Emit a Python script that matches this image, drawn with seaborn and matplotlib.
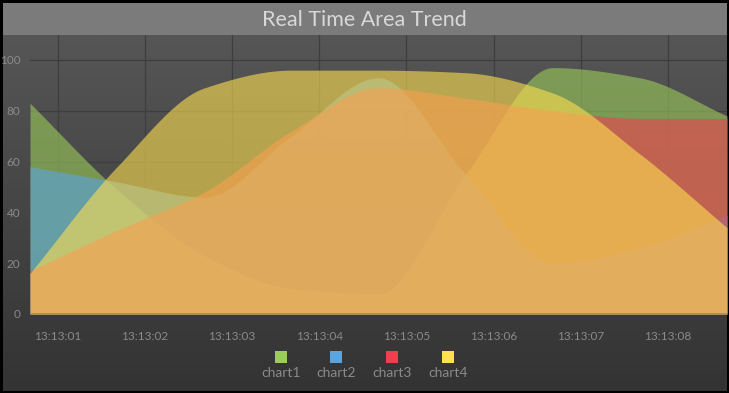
import numpy as np
import pandas as pd
import matplotlib
matplotlib.use("Agg")
import matplotlib.pyplot as plt
import seaborn as sns
from matplotlib.patches import Rectangle

# ---------------- data ----------------
sample_times = [0.68, 1.68, 2.68, 3.68, 4.68, 5.68, 6.68, 7.68, 8.68]
tick_seconds = [1, 2, 3, 4, 5, 6, 7, 8]
tick_labels = ["13:13:01", "13:13:02", "13:13:03", "13:13:04",
               "13:13:05", "13:13:06", "13:13:07", "13:13:08"]
series_names = ["chart1", "chart2", "chart3", "chart4"]
chart1 = [83, 49, 23, 10, 8, 55, 97, 93, 78]
chart2 = [58, 52, 46, 70, 93, 55, 20, 26, 39]
chart3 = [17, 33, 48, 72, 89, 85, 80, 77, 77]
chart4 = [16, 58, 89, 96, 96, 95, 87, 63, 34]
y_ticks = [0, 20, 40, 60, 80, 100]
colors = ["#9ccc5a", "#5aa5e0", "#f0404f", "#ffe050"]
title = "Real Time Area Trend"


def monotone_curve(x, y, n=60):
    x = np.asarray(x, float)
    y = np.asarray(y, float)
    h = np.diff(x)
    d = np.diff(y) / h
    m = np.zeros_like(y)
    m[0], m[-1] = d[0], d[-1]
    for k in range(1, len(y) - 1):
        if d[k - 1] * d[k] <= 0:
            m[k] = 0.0
        else:
            w1 = 2 * h[k] + h[k - 1]
            w2 = h[k] + 2 * h[k - 1]
            m[k] = (w1 + w2) / (w1 / d[k - 1] + w2 / d[k])
    xs, ys = [], []
    for k in range(len(h)):
        t = np.linspace(0, 1, n, endpoint=(k == len(h) - 1))
        h00 = 2 * t**3 - 3 * t**2 + 1
        h10 = t**3 - 2 * t**2 + t
        h01 = -2 * t**3 + 3 * t**2
        h11 = t**3 - t**2
        xs.append(x[k] + t * h[k])
        ys.append(h00 * y[k] + h10 * h[k] * m[k] + h01 * y[k + 1] + h11 * h[k] * m[k + 1])
    return np.concatenate(xs), np.clip(np.concatenate(ys), 0, None)


rows = []
for name, vals in zip(series_names, [chart1, chart2, chart3, chart4]):
    xs, ys = monotone_curve(sample_times, vals)
    rows.append(pd.DataFrame({"t": xs, "value": ys, "series": name}))
df = pd.concat(rows, ignore_index=True)

# ---------------- style ----------------
sns.set_theme(style="dark")
plt.rcParams["font.family"] = ["Lato", "DejaVu Sans"]

W, H = 729, 393
fig = plt.figure(figsize=(W / 100, H / 100), dpi=100)

# background
bg = fig.add_axes([0, 0, 1, 1], zorder=-10)
bg.set_xlim(0, W)
bg.set_ylim(H, 0)
bg.axis("off")
grad = np.linspace(0, 1, 256)[:, None]
c_top = np.array([0x56, 0x56, 0x56]) / 255
c_bot = np.array([0x33, 0x33, 0x33]) / 255
img = c_top[None, None, :] * (1 - grad[..., None]) + c_bot[None, None, :] * grad[..., None]
bg.imshow(img, extent=[0, W, H, 35], aspect="auto", interpolation="bilinear")
bg.add_patch(Rectangle((0, 3), W, 32, color="#7b7b7b", lw=0))
for (x0, y0, w, h) in [(0, 0, W, 3), (0, 0, 3, H), (W - 2, 0, 2, H), (0, H - 2, W, 2)]:
    bg.add_patch(Rectangle((x0, y0), w, h, color="#000000", lw=0))
bg.text(W / 2, 20, title, ha="center", va="center", color="#d8d8d8", fontsize=15.5)

# main axes
ax = fig.add_axes([30 / W, (H - 314) / H, 697 / W, 279 / H])
ax.set_facecolor("none")
ax.set_xlim(sample_times[0], sample_times[-1])
ax.set_ylim(0, 279 / 2.54)

ax.set_xticks(tick_seconds)
ax.set_xticklabels(tick_labels)
ax.set_yticks(y_ticks)
ax.tick_params(axis="both", colors="#8a8a8a", labelsize=8.5, length=0)
ax.tick_params(axis="x", pad=12)
ax.tick_params(axis="y", pad=7)
ax.grid(True, color="#3e3e3e", lw=0.9)
ax.set_axisbelow(True)
for s in ax.spines.values():
    s.set_visible(False)

for i, (name, col) in enumerate(zip(series_names, colors)):
    sub = df[df["series"] == name]
    sns.lineplot(data=sub, x="t", y="value", ax=ax, color=col, lw=0, legend=False)
    ax.fill_between(sub["t"], 0, sub["value"], color=col, alpha=0.6, lw=0, zorder=2 + i)

ax.axhline(0, color="#8796a4", lw=1.4, zorder=10)
ax.set_xlabel("")
ax.set_ylabel("")

# legend (square markers above labels)
legend_x = [281, 336, 392, 448]
for name, col, lx in zip(series_names, colors, legend_x):
    bg.add_patch(Rectangle((lx - 6, 351), 12, 12, color=col, lw=0))
    bg.text(lx, 373, name, ha="center", va="center", color="#8a8a8a", fontsize=10)

fig.savefig("out.png", dpi=100)
